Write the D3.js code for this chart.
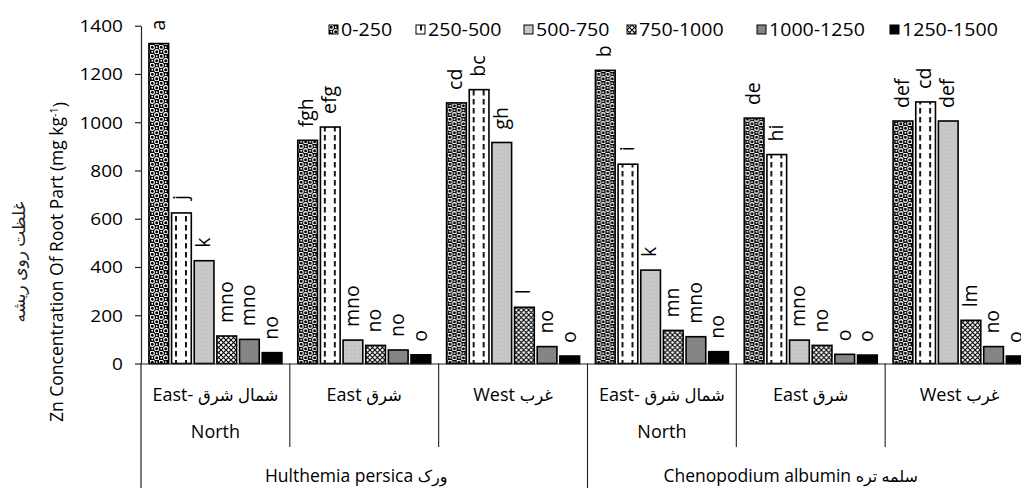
<!DOCTYPE html>
<html><head><meta charset="utf-8">
<script src="https://cdn.jsdelivr.net/npm/d3@7"></script>
<style>
body{margin:0;background:#fff}
svg{display:block}
text{font-family:'Open Sans','DejaVu Sans',sans-serif;fill:#000}
</style>
</head><body>
<svg id="c" width="1021" height="488"></svg>
<script>
// ---------- data ----------
const groups = ["HP-NE","HP-E","HP-W","CA-NE","CA-E","CA-W"];
const series = ["0-250","250-500","500-750","750-1000","1000-1250","1250-1500"];
const v0_250     = [1326, 925, 1080, 1215, 1017, 1005];
const v250_500   = [624, 980, 1135, 826, 866, 1084];
const v500_750   = [426, 97, 916, 387, 97, 1005];
const v750_1000  = [114, 75, 233, 137, 75, 179];
const v1000_1250 = [100, 56, 70, 111, 38, 70];
const v1250_1500 = [45, 36, 31, 49, 35, 31];
const letters0 = ["a","fgh","cd","b","de","def"];
const letters1 = ["j","efg","bc","i","hi","cd"];
const letters2 = ["k","mno","gh","k","mno","def"];
const letters3 = ["mno","no","l","mn","no","lm"];
const letters4 = ["mno","no","no","mno","o","no"];
const letters5 = ["no","o","o","no","o","o"];
const yTicks = [0,200,400,600,800,1000,1200,1400];
const subLatin  = ["East- ","East ","West ","East- ","East ","West "];
const subFarsi  = ["شمال شرق","شرق","غرب","شمال شرق","شرق","غرب"];
const subLine2 = ["North","","","North","",""];
const speciesLatin = ["Hulthemia persica ","Chenopodium albumin  "];
const speciesFarsi = ["ورک","سلمه تره"];
const yTitle = "Zn Concentration Of Root Part (mg kg";
const yTitleFa = "غلظت روی ریشه";

const valuesBySeries = [v0_250, v250_500, v500_750, v750_1000, v1000_1250, v1250_1500];
const lettersBySeries = [letters0, letters1, letters2, letters3, letters4, letters5];

// ---------- layout ----------
const svg = d3.select("#c");
const pLeft = 141, pRight = 1034, pTop = 25.7, pBase = 363.5;
const SX = 1.12; // horizontal text stretch (ticks, legend)

const x0 = d3.scaleBand().domain(groups).range([pLeft, pRight]).paddingInner(0).paddingOuter(0);
const x1 = d3.scaleBand().domain(series).range([0, x0.bandwidth()]).paddingInner(0.13).paddingOuter(0.35);
const y = d3.scaleLinear().domain([0, 1400]).range([pBase, pTop]);

// ---------- patterns ----------
const defs = svg.append("defs");
function pat(id, w, h) {
  return defs.append("pattern").attr("id", id).attr("patternUnits", "userSpaceOnUse")
    .attr("width", w).attr("height", h);
}
let p = pat("p0", 9, 9);
p.append("rect").attr("width", 9).attr("height", 9).attr("fill", "#000");
[[2.25,2.25],[6.75,6.75]].forEach(c => {
  p.append("circle").attr("cx", c[0]).attr("cy", c[1]).attr("r", 2.1)
    .attr("fill", "#000").attr("stroke", "#fff").attr("stroke-width", 1.1);
});
[[6.75,2.25],[2.25,6.75]].forEach(c => {
  p.append("circle").attr("cx", c[0]).attr("cy", c[1]).attr("r", 0.9).attr("fill", "#fff");
});

p = pat("p1", 10, 9);
p.append("rect").attr("width", 10).attr("height", 9).attr("fill", "#fff");
p.append("line").attr("x1", 5).attr("x2", 5).attr("y1", 0).attr("y2", 5.5)
  .attr("stroke", "#000").attr("stroke-width", 1.8);

p = pat("p2", 4, 4);
p.append("rect").attr("width", 4).attr("height", 4).attr("fill", "#c8c8c8");
p.append("rect").attr("x", 1).attr("y", 1).attr("width", 1).attr("height", 1).attr("fill", "#b4b4b4");

p = pat("p3", 5, 5);
p.append("rect").attr("width", 5).attr("height", 5).attr("fill", "#fff");
p.append("path").attr("d", "M0,0L5,5M5,0L0,5").attr("stroke", "#000").attr("stroke-width", 1.1);

p = pat("p4", 4, 4);
p.append("rect").attr("width", 4).attr("height", 4).attr("fill", "#868686");
p.append("rect").attr("x", 1).attr("y", 1).attr("width", 1).attr("height", 1).attr("fill", "#747474");

p = pat("p5", 4, 4);
p.append("rect").attr("width", 4).attr("height", 4).attr("fill", "#000");

const fills = ["url(#p0)","url(#p1)","url(#p2)","url(#p3)","url(#p4)","url(#p5)"];

// ---------- bars ----------
const gGroups = svg.append("g").selectAll("g").data(groups).join("g")
  .attr("transform", g => `translate(${x0(g)},0)`);

gGroups.selectAll("rect").data((g, gi) => series.map((s, si) => ({s, si, v: valuesBySeries[si][gi]})))
  .join("rect")
  .attr("x", d => x1(d.s))
  .attr("width", x1.bandwidth())
  .attr("y", d => y(d.v))
  .attr("height", d => y(0) - y(d.v))
  .attr("fill", d => fills[d.si])
  .attr("stroke", "#000").attr("stroke-width", 1.6);

gGroups.selectAll("text.lbl").data((g, gi) => series.map((s, si) => ({s, si, v: valuesBySeries[si][gi], t: lettersBySeries[si][gi]})))
  .join("text").attr("class", "lbl")
  .attr("transform", d => `translate(${x1(d.s) + x1.bandwidth()/2},${y(d.v) - 13}) rotate(-90)`)
  .attr("dy", "0.3em")
  .style("font-size", "19.5px")
  .text(d => d.t);

// ---------- axes ----------
const yAxis = d3.axisLeft(y).tickValues(yTicks).tickFormat(d3.format("d"))
  .tickSize(6).tickSizeOuter(0).tickPadding(12);
const ya = svg.append("g").attr("transform", `translate(${pLeft},0)`).call(yAxis);
ya.attr("font-family", null).attr("font-size", null);
ya.select(".domain").attr("stroke", "#222").attr("stroke-width", 1.2);
ya.selectAll(".tick line").attr("stroke", "#222").attr("stroke-width", 1.2);
ya.selectAll(".tick text")
  .attr("x", null).attr("dy", "0.35em").attr("text-anchor", "end")
  .attr("transform", `translate(-18,0) scale(${SX},1)`)
  .style("font-size", "17px").style("fill", "#000");
// extend y axis down
svg.append("line").attr("x1", pLeft).attr("x2", pLeft).attr("y1", pBase).attr("y2", 488)
  .attr("stroke", "#222").attr("stroke-width", 1.2);

const xAxis = d3.axisBottom(x0).tickSize(0).tickSizeOuter(0).tickFormat("");
const xa = svg.append("g").attr("transform", `translate(0,${pBase})`).call(xAxis);
xa.select(".domain").attr("stroke", "#222").attr("stroke-width", 1.2);

// group dividers
groups.forEach((g, i) => {
  if (i === 0) return;
  const major = (i % 3 === 0);
  svg.append("line").attr("x1", x0(g)).attr("x2", x0(g))
    .attr("y1", pBase).attr("y2", major ? 488 : 447)
    .attr("stroke", "#222").attr("stroke-width", 1.1);
});

// category labels (Latin left, Farsi right)
function mixText(xc, yb, latin, farsi, size, fsize) {
  const t = svg.append("text")
    .attr("transform", `translate(${xc},${yb})`)
    .attr("text-anchor", "middle").attr("direction", "ltr")
    .style("font-size", size + "px");
  t.append("tspan").text(latin);
  if (farsi) t.append("tspan").style("font-size", fsize + "px").text(farsi);
}
groups.forEach((g, i) => {
  const xc = x0(g) + x0.bandwidth() / 2;
  mixText(xc, 401, subLatin[i], subFarsi[i], 18, 16.5);
  if (subLine2[i]) mixText(xc, 438, subLine2[i], null, 18, 16.5);
});
const speciesCenter = [x0("HP-E") + x0.bandwidth()/2 - 8, x0("CA-E") + x0.bandwidth()/2 - 20];
speciesLatin.forEach((s, i) => mixText(speciesCenter[i], 482, s, speciesFarsi[i], 17.5, 16));

// y titles
const yt = svg.append("text")
  .attr("transform", `translate(63,262) rotate(-90)`)
  .attr("text-anchor", "middle").style("font-size", "17.5px");
yt.append("tspan").text(yTitle);
yt.append("tspan").attr("dy", "-0.45em").style("font-size", "11px").text("-1");
yt.append("tspan").attr("dy", "0.45em").text(")");

svg.append("text")
  .attr("transform", `translate(25,262) rotate(-90)`)
  .attr("text-anchor", "middle").style("font-size", "17px")
  .style("fill", "#222").text(yTitleFa);

// ---------- legend ----------
const legX = [329, 416, 524, 627, 757, 890];
const leg = svg.append("g").selectAll("g").data(series).join("g")
  .attr("transform", (d, i) => `translate(${legX[i]},25)`);
leg.append("rect").attr("width", 9).attr("height", 9)
  .attr("fill", (d, i) => fills[i]).attr("stroke", "#000").attr("stroke-width", 1);
leg.append("text")
  .attr("transform", `translate(12,10.5) scale(${SX},1)`)
  .style("font-size", "17.5px").text(d => d);
</script>
</body></html>
